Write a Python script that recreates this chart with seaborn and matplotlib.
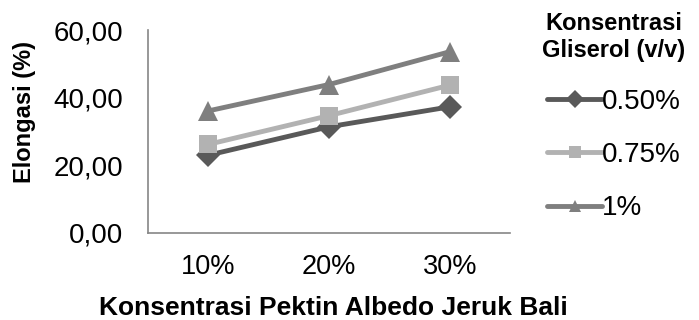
import numpy as np
import pandas as pd
import matplotlib.pyplot as plt
import seaborn as sns

# data
pektin = ["10%", "20%", "30%"]
gliserol = ["0.50%", "0.75%", "1%"]
elong_050 = [23.0, 31.4, 37.3]
elong_075 = [26.2, 34.7, 43.7]
elong_100 = [36.1, 43.9, 53.6]
ytick_lab = ["0,00", "20,00", "40,00", "60,00"]

df = pd.DataFrame({
    "pektin": pektin * 3,
    "gliserol": [g for g in gliserol for i in range(3)],
    "elongasi": elong_050 + elong_075 + elong_100,
})

sns.set_style("white")
plt.rcParams['font.family'] = ['Liberation Sans', 'DejaVu Sans']
plt.rcParams['text.color'] = 'black'
plt.rcParams['xtick.color'] = 'black'
plt.rcParams['ytick.color'] = 'black'
plt.rcParams['axes.labelcolor'] = 'black'

fig = plt.figure(figsize=(6.99, 3.2), dpi=100)
ax = fig.add_axes([0.2117, 0.272, 0.518, 0.634])

colors = ["#595959", "#b2b2b2", "#7f7f7f"]
sns.lineplot(data=df, x="pektin", y="elongasi", hue="gliserol", style="gliserol",
             markers=["D", "s", "^"], dashes=False, palette=colors,
             linewidth=3.5, markersize=13, markeredgewidth=0, ax=ax)
# marker sizes per series
for ln, ms in zip(ax.lines[:3], [12, 13.5, 15]):
    ln.set_markersize(ms)

ax.set_xlim(-0.5, 2.5)
ax.set_ylim(0, 60)
ax.set_yticks([0, 20, 40, 60])
ax.set_yticklabels(ytick_lab, fontsize=20)
ax.set_xticks([0, 1, 2])
ax.set_xticklabels(pektin, fontsize=19.5)
ax.tick_params(axis="x", length=0, pad=15)
ax.tick_params(axis="y", length=0, pad=18)

for s in ["top", "right"]:
    ax.spines[s].set_visible(False)
for s in ["left", "bottom"]:
    ax.spines[s].set_color("#868686")
    ax.spines[s].set_linewidth(1.2)

ax.set_xlabel("Konsentrasi Pektin Albedo Jeruk Bali", fontsize=19, fontweight="bold")
ax.set_ylabel("Elongasi (%)", fontsize=17, fontweight="bold")
ax.xaxis.set_label_coords(0.513, -0.31)
ax.yaxis.set_label_coords(-0.308, 0.596)

leg = ax.legend(title="Konsentrasi\nGliserol (v/v)", loc="upper center",
                bbox_to_anchor=(614 / 699, 1 - 12 / 320), bbox_transform=fig.transFigure,
                frameon=False, fontsize=20, markerscale=0.7,
                title_fontproperties={"weight": "bold", "size": 17},
                labelspacing=0.98, handlelength=2.0, handletextpad=0.0,
                borderaxespad=0, borderpad=0)
leg._legend_box.align = "center"
leg.get_title().set_multialignment("center")
for h in leg.legend_handles:
    h.set_linewidth(3.5)

fig.savefig("out.png", dpi=100)
